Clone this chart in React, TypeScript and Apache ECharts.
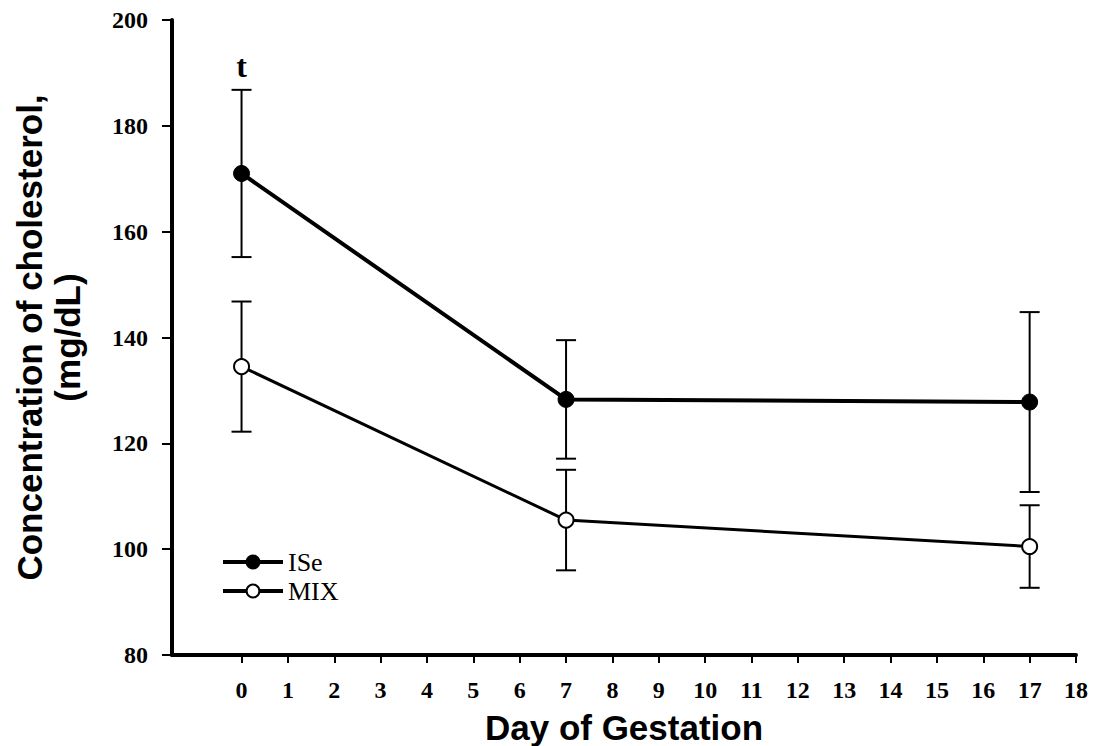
import React, { useEffect, useRef } from "react";
import * as echarts from "echarts";

const days = [0, 7, 17];
const iseMean = [171, 128.3, 127.8];
const iseErr = [15.8, 11.2, 17];
const mixMean = [134.5, 105.5, 100.5];
const mixErr = [12.3, 9.5, 7.8];
const xTicks = [0, 1, 2, 3, 4, 5, 6, 7, 8, 9, 10, 11, 12, 13, 14, 15, 16, 17, 18];
const annotations = [{ day: 0, value: 191.3, text: "t" }];

const serif = "'Liberation Serif', 'Times New Roman', serif";
const sans = "'Liberation Sans', Arial, sans-serif";

function errData(means: number[], errs: number[]) {
  return days.map((d, i) => [d, means[i] - errs[i], means[i] + errs[i]]);
}

function errRender(params: any, api: any) {
  const x = api.value(0);
  const lo = api.coord([x, api.value(1)]);
  const hi = api.coord([x, api.value(2)]);
  const hw = 10;
  const style = { stroke: "#000", lineWidth: 2 };
  return {
    type: "group",
    children: [
      { type: "line", shape: { x1: lo[0], y1: lo[1], x2: hi[0], y2: hi[1] }, style },
      { type: "line", shape: { x1: hi[0] - hw, y1: hi[1], x2: hi[0] + hw, y2: hi[1] }, style },
      { type: "line", shape: { x1: lo[0] - hw, y1: lo[1], x2: lo[0] + hw, y2: lo[1] }, style },
    ],
  };
}

export default function App() {
  const ref = useRef<HTMLDivElement>(null);
  useEffect(() => {
    if (!ref.current) return;
    const chart = echarts.init(ref.current, null, { renderer: "svg" });
    chart.setOption({
      animation: false,
      backgroundColor: "#fff",
      grid: { left: 172, top: 20, right: 18, bottom: 91, containLabel: false, outerBoundsMode: "none" },
      legend: {
        orient: "vertical",
        left: 216,
        top: 544,
        itemWidth: 60,
        itemHeight: 16,
        itemGap: 3,
        data: ["ISe", "MIX"],
        lineStyle: { width: 4 },
        textStyle: { fontFamily: serif, fontSize: 26, color: "#000" },
      },
      xAxis: {
        type: "value",
        min: -1.5,
        max: 18,
        name: "Day of Gestation",
        nameLocation: "middle",
        nameGap: 55,
        nameTextStyle: { fontFamily: sans, fontWeight: "bold", fontSize: 35, color: "#000" },
        splitLine: { show: false },
        axisLine: { show: true, onZero: false, lineStyle: { color: "#000", width: 4 } },
        axisTick: { show: true, length: 8, customValues: xTicks, lineStyle: { color: "#000", width: 2 } },
        axisLabel: {
          customValues: xTicks,
          margin: 23,
          fontFamily: serif,
          fontWeight: "bold",
          fontSize: 24,
          color: "#000",
        },
      },
      yAxis: {
        type: "value",
        min: 80,
        max: 200,
        interval: 20,
        name: "Concentration of cholesterol,\n(mg/dL)",
        nameLocation: "middle",
        nameGap: 86,
        nameTextStyle: {
          fontFamily: sans,
          fontWeight: "bold",
          fontSize: 35,
          color: "#000",
          lineHeight: 38,
        },
        splitLine: { show: false },
        axisLine: { show: true, onZero: false, lineStyle: { color: "#000", width: 4 } },
        axisTick: { show: true, length: 10, lineStyle: { color: "#000", width: 2 } },
        axisLabel: { margin: 24, fontFamily: serif, fontWeight: "bold", fontSize: 24, color: "#000" },
      },
      series: [
        {
          name: "ISeErr",
          type: "custom",
          renderItem: errRender,
          data: errData(iseMean, iseErr),
          encode: { x: 0, y: [1, 2] },
          z: 1,
        },
        {
          name: "MIXErr",
          type: "custom",
          renderItem: errRender,
          data: errData(mixMean, mixErr),
          encode: { x: 0, y: [1, 2] },
          z: 1,
        },
        {
          name: "ISe",
          type: "line",
          data: days.map((d, i) => [d, iseMean[i]]),
          symbol: "circle",
          symbolSize: 16,
          lineStyle: { color: "#000", width: 4 },
          itemStyle: { color: "#000", borderColor: "#000", borderWidth: 1 },
          z: 3,
        },
        {
          name: "MIX",
          type: "line",
          data: days.map((d, i) => [d, mixMean[i]]),
          symbol: "circle",
          symbolSize: 15,
          lineStyle: { color: "#000", width: 3 },
          itemStyle: { color: "#fff", borderColor: "#000", borderWidth: 2 },
          z: 3,
        },
        {
          name: "annot",
          type: "custom",
          data: annotations.map((a) => [a.day, a.value]),
          encode: { x: 0, y: 1 },
          renderItem: (params: any, api: any) => {
            const p = api.coord([api.value(0), api.value(1)]);
            return {
              type: "text",
              x: p[0],
              y: p[1],
              style: {
                text: annotations[params.dataIndex].text,
                fontFamily: serif,
                fontWeight: "bold",
                fontSize: 32,
                fill: "#000",
                align: "center",
                verticalAlign: "middle",
              },
            };
          },
          z: 4,
        },
      ],
    });
    return () => chart.dispose();
  }, []);
  return (
    <div
      ref={ref}
      style={{ position: "fixed", left: 0, top: 0, width: 1094, height: 746 }}
    />
  );
}
